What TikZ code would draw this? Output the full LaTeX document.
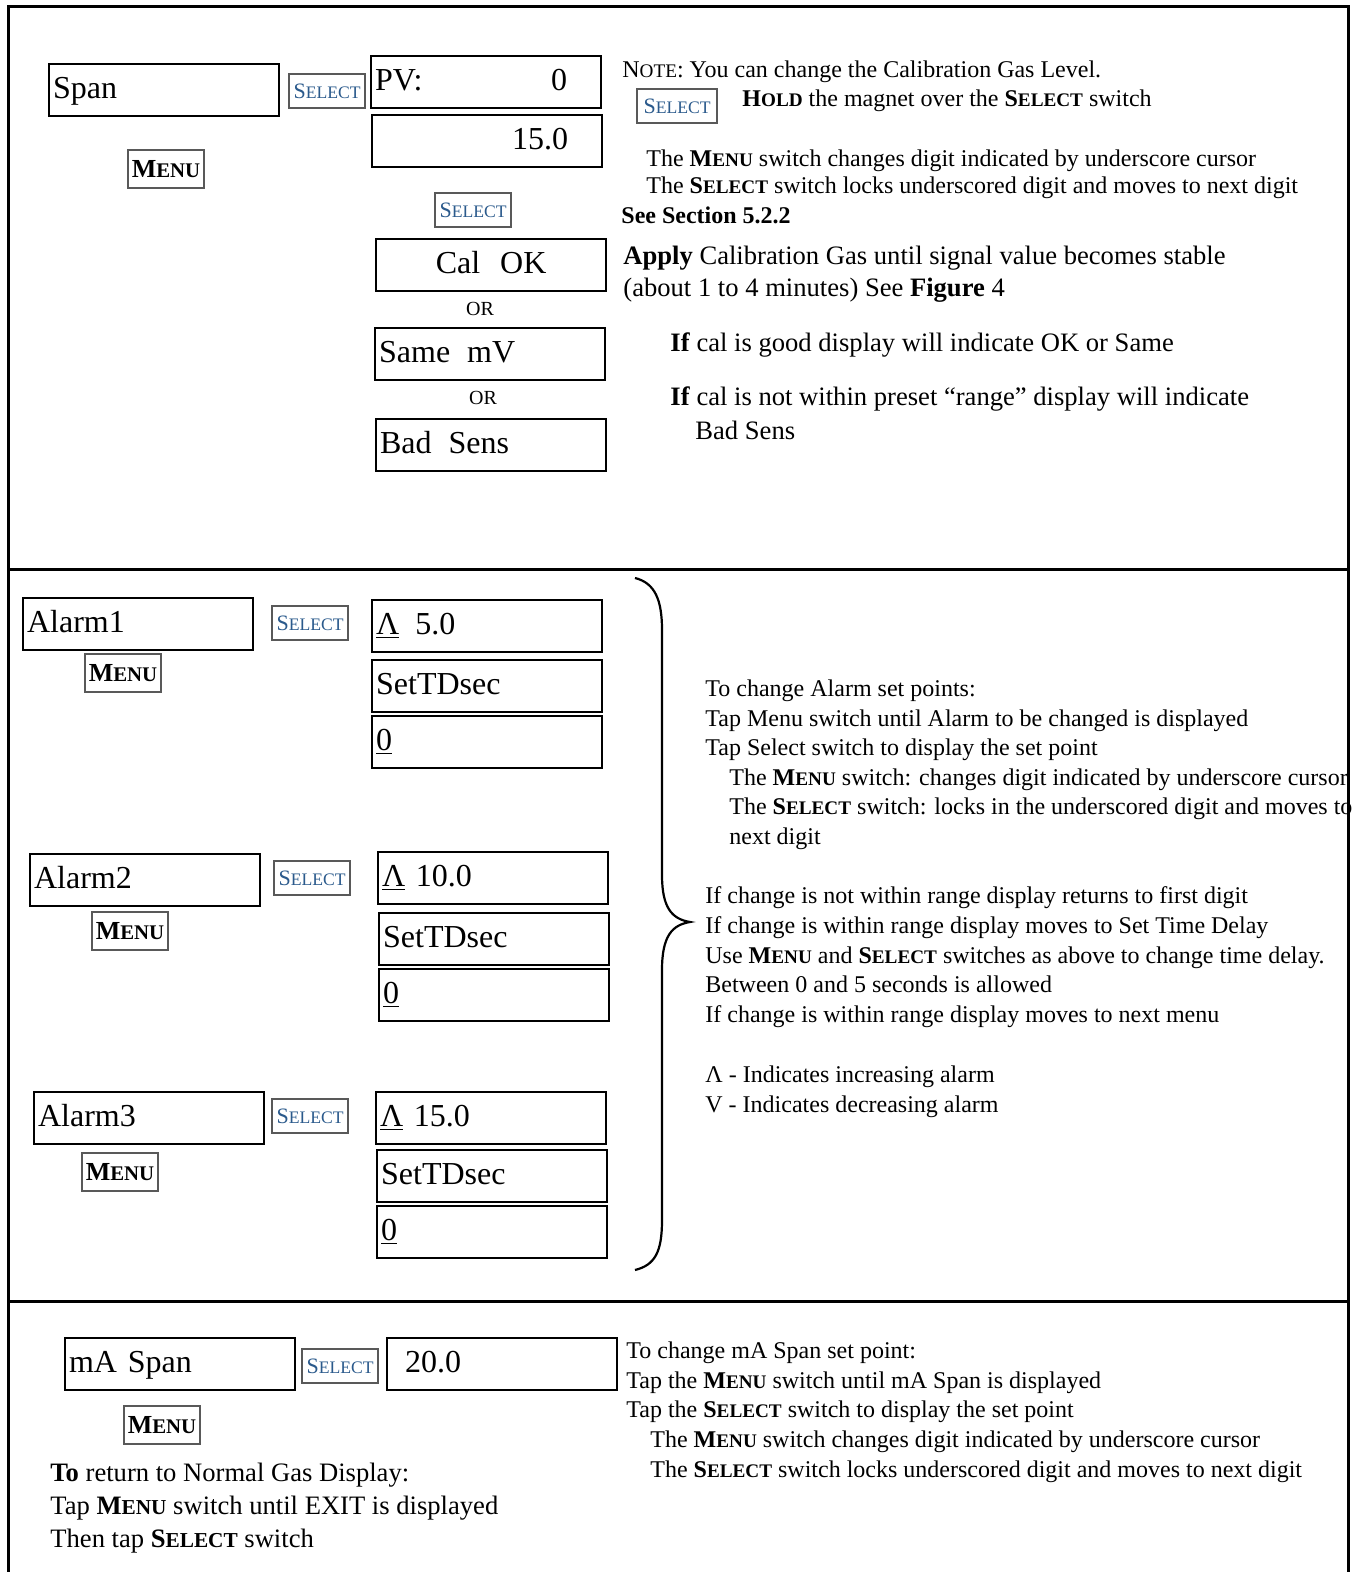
\documentclass[tikz,border=0pt]{standalone}
\usepackage{fontspec}
\setmainfont{Liberation Serif}
\usetikzlibrary{positioning}
\definecolor{selBlue}{HTML}{2B5A8C}
\makeatletter
\newcommand{\smc}[1]{{\fontsize{\dimexpr0.8\dimexpr\f@size pt\relax\relax}{\f@baselineskip}\selectfont#1}}
\makeatother
\newcommand{\menukey}{M\smc{ENU}}
\newcommand{\selkey}{S\smc{ELECT}}
\newcommand{\Menu}{\textbf{\menukey}}
\newcommand{\Select}{\textbf{\selkey}}
\newcommand{\Hold}{\textbf{H\smc{OLD}}}
\newcommand{\Note}{N\smc{OTE}}

\begin{document}
\begin{tikzpicture}[x=0.5pt, y=-0.5pt,
  disp/.style={draw, line width=1.1pt, anchor=north west, minimum height=26pt,
               text width=111pt, inner xsep=2pt, inner ysep=0pt, align=left,
               text height=11.5pt, text depth=3.5pt, font=\fontsize{16}{18}\selectfont},
  sw/.style={draw=black!65, line width=0.6pt, minimum width=38pt,
             minimum height=17pt, inner sep=1pt},
  selsw/.style={sw, text=selBlue, font=\fontsize{11}{12}\selectfont},
  menusw/.style={sw, minimum height=19pt, font=\fontsize{13}{15}\selectfont\bfseries},
  txt/.style={anchor=base west, inner sep=0pt, font=\fontsize{12}{14}\selectfont},
  bigtxt/.style={txt, font=\fontsize{13.3}{16}\selectfont},
  ortxt/.style={inner sep=0pt, font=\fontsize{10}{12}\selectfont},
  frame/.style={line width=1.5pt}
]
\useasboundingbox (0,0) rectangle (1353,1572);

% frame
\draw[frame] (8,1572) -- (8,7) -- (1348,7) -- (1348,1572);
\draw[frame] (8,569) -- (1348,569);
\draw[frame] (8,1301) -- (1348,1301);

% span calibration
\node[disp] (span) at (48,63) {Span};
\node[selsw] (sel1) at (327,91) {\selkey};
\node[disp] (pv) at (370,55) {PV:\hskip 0pt plus 1filll 0\rule{15pt}{0pt}};
\node[disp, align=right] (spanval) at (371,114) {15.0\rule{15pt}{0pt}};
\node[menusw] (menu1) at (166,169) {\menukey};
\node[selsw] (sel2) at (473,210) {\selkey};
\node[disp, align=center] (calok) at (375,238) {Cal\hspace{10pt}OK};
\node[ortxt] (or1) at (480,309) {OR};
\node[disp] (samemv) at (374,327) {Same\hspace{8.5pt}mV};
\node[ortxt] (or2) at (483,398) {OR};
\node[disp] (badsens) at (375,418) {Bad\hspace{8.5pt}Sens};

\node[txt] (note) at (622,78) {\Note: You can change the Calibration Gas Level.};
\node[selsw, minimum width=40pt] (sel0) at (677,106) {\selkey};
\node[txt] (hold) at (742,107) {\Hold{} the magnet over the \Select{} switch};
\node[txt] (cmenu) at (646,167) {The \Menu{} switch changes digit indicated by underscore cursor};
\node[txt] (csel) at (646,194) {The \Select{} switch locks underscored digit and moves to next digit};
\node[txt, font=\fontsize{12}{14}\selectfont\bfseries] (sect) at (621,224) {See Section 5.2.2};
\node[bigtxt] (apply) at (623,265) {\textbf{Apply} Calibration Gas until signal value becomes stable};
\node[bigtxt] (about) at (623,297) {(about 1 to 4 minutes) See \textbf{Figure} 4};
\node[bigtxt] (ifgood) at (670,352) {\textbf{If} cal is good display will indicate OK or Same};
\node[bigtxt] (ifbad) at (670,406) {\textbf{If} cal is not within preset “range” display will indicate};
\node[bigtxt] (badtxt) at (695,440) {Bad Sens};

% alarms
\node[disp] (al1) at (22,597) {Alarm1};
\node[selsw] (sel3) at (310,623) {\selkey};
\node[menusw] (menu2) at (123,673) {\menukey};
\node[disp] (al1set) at (371,599) {\underline{Λ}\hspace{8pt}5.0};
\node[disp] (al1td) at (371,659) {SetTDsec};
\node[disp] (al1sec) at (371,715) {\underline{0}};

\node[disp] (al2) at (29,853) {Alarm2};
\node[selsw] (sel4) at (312,878) {\selkey};
\node[menusw] (menu3) at (130,931) {\menukey};
\node[disp] (al2set) at (377,851) {\underline{Λ} 10.0};
\node[disp] (al2td) at (378,912) {SetTDsec};
\node[disp] (al2sec) at (378,968) {\underline{0}};

\node[disp] (al3) at (33,1091) {Alarm3};
\node[selsw] (sel5) at (310,1116) {\selkey};
\node[menusw] (menu4) at (120,1172) {\menukey};
\node[disp] (al3set) at (375,1091) {\underline{Λ} 15.0};
\node[disp] (al3td) at (376,1149) {SetTDsec};
\node[disp] (al3sec) at (376,1205) {\underline{0}};

\draw[line width=1.1pt] (635,578) .. controls (655,583) and (662,600) .. (662,630)
  -- (662,875) .. controls (662,908) and (672,919) .. (690,922)
  .. controls (672,925) and (662,936) .. (662,970)
  -- (662,1220) .. controls (662,1252) and (655,1265) .. (635,1270);

\node[txt] (a1) at (705,696) {To change Alarm set points:};
\node[txt] (a2) at (705,726) {Tap Menu switch until Alarm to be changed is displayed};
\node[txt] (a3) at (705,755) {Tap Select switch to display the set point};
\node[txt] (a4) at (729,785) {The \Menu{} switch: changes digit indicated by underscore cursor};
\node[txt] (a5) at (729,814) {The \Select{} switch: locks in the underscored digit and moves to};
\node[txt] (a6) at (729,844) {next digit};
\node[txt] (a7) at (705,903) {If change is not within range display returns to first digit};
\node[txt] (a8) at (705,933) {If change is within range display moves to Set Time Delay};
\node[txt] (a9) at (705,963) {Use \Menu{} and \Select{} switches as above to change time delay.};
\node[txt] (a10) at (705,992) {Between 0 and 5 seconds is allowed};
\node[txt] (a11) at (705,1022) {If change is within range display moves to next menu};
\node[txt] (a12) at (705,1082) {Λ - Indicates increasing alarm};
\node[txt] (a13) at (705,1112) {V - Indicates decreasing alarm};

% mA span
\node[disp] (maspan) at (64,1337) {mA Span};
\node[selsw] (sel6) at (340,1366) {\selkey};
\node[disp] (maval) at (386,1337) {\hspace*{7pt}20.0};
\node[menusw] (menu5) at (162,1425) {\menukey};

\node[txt] (m1) at (626,1358) {To change mA Span set point:};
\node[txt] (m2) at (626,1388) {Tap the \Menu{} switch until mA Span is displayed};
\node[txt] (m3) at (626,1417) {Tap the \Select{} switch to display the set point};
\node[txt] (m4) at (650,1447) {The \Menu{} switch changes digit indicated by underscore cursor};
\node[txt] (m5) at (650,1477) {The \Select{} switch locks underscored digit and moves to next digit};

\node[bigtxt] (ex1) at (50,1481) {\textbf{To} return to Normal Gas Display:};
\node[bigtxt] (ex2) at (50,1514) {Tap \Menu{} switch until EXIT is displayed};
\node[bigtxt] (ex3) at (50,1547) {Then tap \Select{} switch};
\end{tikzpicture}
\end{document}
